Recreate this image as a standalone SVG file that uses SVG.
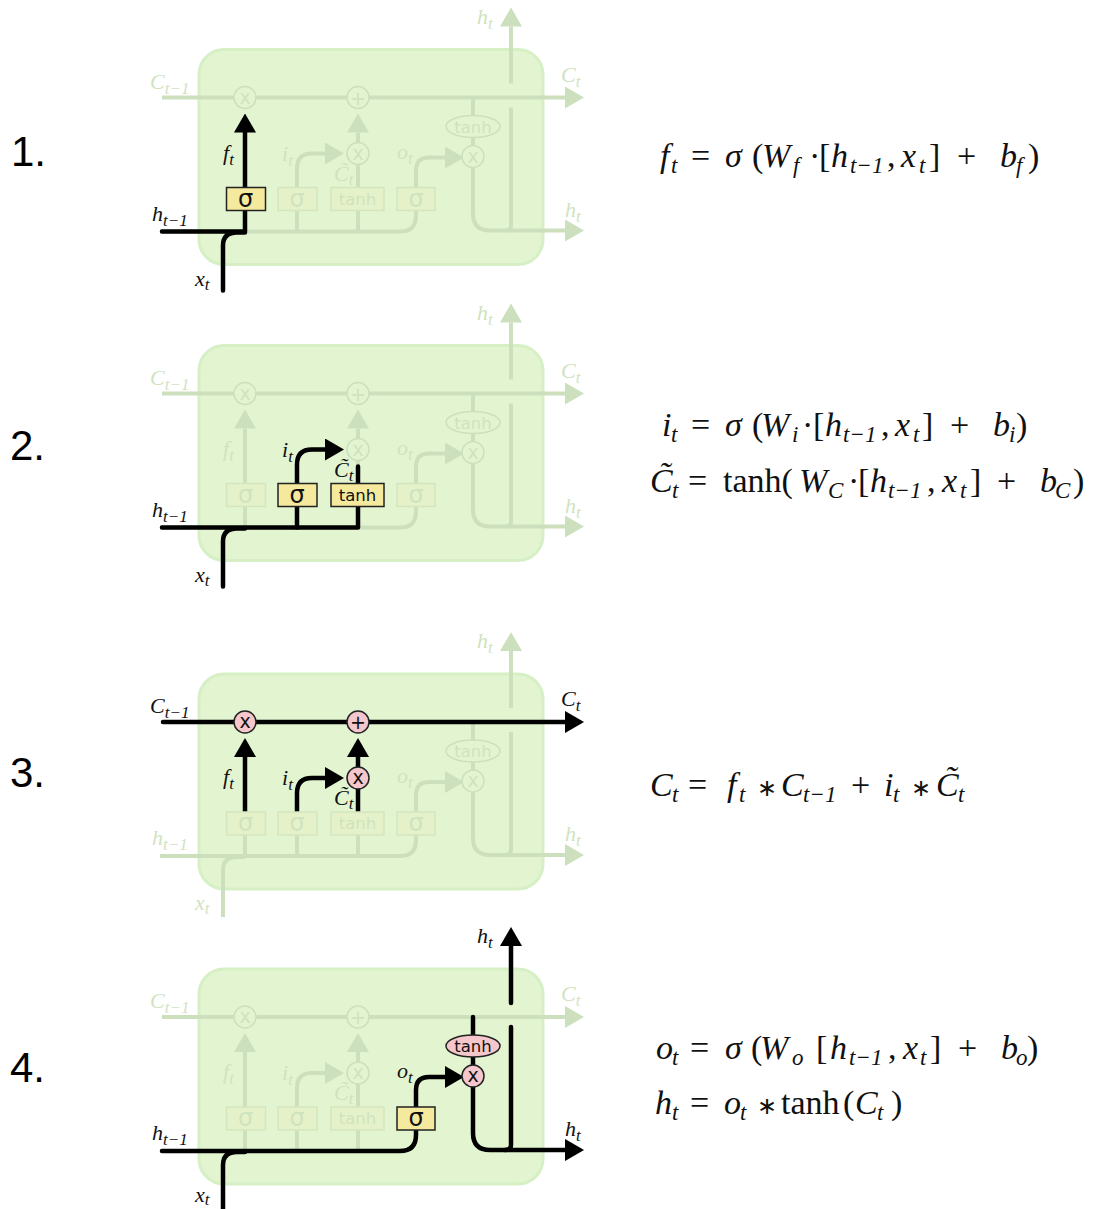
<svg xmlns="http://www.w3.org/2000/svg" width="1093" height="1209" viewBox="0 0 1093 1209">
<style>
.bg{fill:#fff}
.cell{fill:#e2f5d0;stroke:#d6efc4;stroke-width:3}
.fl{fill:none;stroke:#cde0bd;stroke-width:4}
.hl{fill:none;stroke:#000;stroke-width:4.5;stroke-linecap:round;stroke-linejoin:round}
.fb{fill:#e5f2c9;stroke:#d3e6bf;stroke-width:1.5}
.hb{fill:#f5e99d;stroke:#222;stroke-width:1.5}
.fc{fill:#e2f5d0;stroke:#cde0bd;stroke-width:1.5}
.hc{fill:#f5c6cb;stroke:#222;stroke-width:1.5}
text{font-family:"Liberation Serif",serif}
.num{font-family:"Liberation Sans",Arial,sans-serif;font-size:42px;fill:#000}
.g{font-family:"DejaVu Sans",sans-serif;text-anchor:middle}
.sg{font-size:24px}.tn{font-size:16.500px}.op{font-size:19px}
.ft{fill:#d0e3bf}.ht{fill:#111}
.l{font-size:22px;font-style:italic}
.l tspan{font-size:17px}
.eq{font-size:34px;fill:#111}
.i{font-style:italic}
.s{font-size:23px;font-style:italic}
.star{font-family:"DejaVu Sans",sans-serif;font-size:24px}
</style>
<defs>
<marker id="af" viewBox="0 0 19 22" refX="0" refY="11" markerWidth="19" markerHeight="22" markerUnits="userSpaceOnUse" orient="auto"><path d="M0 0L19 11L0 22Z" fill="#cde0bd"/></marker>
<marker id="ah" viewBox="0 0 19 22" refX="0" refY="11" markerWidth="19" markerHeight="22" markerUnits="userSpaceOnUse" orient="auto"><path d="M0 0L19 11L0 22Z" fill="#000"/></marker>
<g id="cellbg"><rect class="cell" x="199" y="49" width="344" height="215" rx="25"/></g>
<g id="fadedlines">
<path class="fl" d="M162 97H565" marker-end="url(#af)"/>
<path class="fl" d="M511 83V26" marker-end="url(#af)"/>
<path class="fl" d="M511 107V225Q511 230 505 230"/>
<path class="fl" d="M160 231H400Q416 231 416 215V170Q416 157 429 157H445" marker-end="url(#af)"/>
<path class="fl" d="M473 97V213Q473 230 490 230H565" marker-end="url(#af)"/>
<path class="fl" d="M245 231V132" marker-end="url(#af)"/>
<path class="fl" d="M297 231V168Q297 153 312 153H325" marker-end="url(#af)"/>
<path class="fl" d="M358 231V132" marker-end="url(#af)"/>
<path class="fl" d="M223 292V245Q223 232 237 232H245"/>
</g>
</defs>
<rect class="bg" width="1093" height="1209"/>

<g id="panel1" transform="translate(0,0.500)">
<use href="#cellbg"/>
<g id="p1-connectors"><use href="#fadedlines"/>
<path class="hl" d="M162 231H245V132" marker-end="url(#ah)"/>
<path class="hl" d="M223 290V245Q223 232 237 232H245"/>
</g>
<g id="p1-mul1"><circle class="fc" cx="245" cy="97" r="11"/><text class="g op ft" x="245" y="103">x</text></g>
<g id="p1-add"><circle class="fc" cx="358" cy="97" r="11"/><text class="g op ft" x="358" y="104">+</text></g>
<g id="p1-mul2"><circle class="fc" cx="358" cy="153" r="11"/><text class="g op ft" x="358" y="159">x</text></g>
<g id="p1-mul3"><circle class="fc" cx="473" cy="156" r="11"/><text class="g op ft" x="473" y="162">x</text></g>
<g id="p1-tanh2"><ellipse class="fc" cx="473" cy="126" rx="27" ry="11"/><text class="g tn ft" x="473" y="132">tanh</text></g>
<g id="p1-forget"><rect class="hb" x="226.500" y="187" width="39" height="23"/><text class="g sg ht" x="245.500" y="206">σ</text></g>
<g id="p1-input"><rect class="fb" x="278" y="187" width="39" height="23"/><text class="g sg ft" x="297" y="206">σ</text></g>
<g id="p1-tanh"><rect class="fb" x="331" y="187" width="53" height="23"/><text class="g tn ft" x="357.500" y="204">tanh</text></g>
<g id="p1-output"><rect class="fb" x="397" y="187" width="38" height="23"/><text class="g sg ft" x="416" y="206">σ</text></g>
<g id="p1-labels">
<text class="l ft" x="150" y="88">C<tspan dy="5">t−1</tspan></text>
<text class="l ft" x="561" y="81">C<tspan dy="5">t</tspan></text>
<text class="l ft" x="477" y="23">h<tspan dy="5">t</tspan></text>
<text class="l ft" x="565" y="216">h<tspan dy="5">t</tspan></text>
<text class="l ht" x="152" y="220">h<tspan dy="5">t−1</tspan></text>
<text class="l ht" x="195" y="285">x<tspan dy="4">t</tspan></text>
<text class="l ht" x="223" y="159">f<tspan dy="5">t</tspan></text>
<text class="l ft" x="282" y="160">i<tspan dy="5">t</tspan></text>
<text class="l ft" x="334" y="180">C̃<tspan dy="4">t</tspan></text>
<text class="l ft" x="397" y="158">o<tspan dy="5">t</tspan></text>
</g>
</g>

<g id="panel2" transform="translate(0,296.500)">
<use href="#cellbg"/>
<g id="p2-connectors"><use href="#fadedlines"/>
<path class="hl" d="M162 231H358V170"/>
<path class="hl" d="M297 231V168Q297 153 312 153H325" marker-end="url(#ah)"/>
<path class="hl" d="M223 290V245Q223 232 237 232H245"/>
</g>
<g id="p2-mul1"><circle class="fc" cx="245" cy="97" r="11"/><text class="g op ft" x="245" y="103">x</text></g>
<g id="p2-add"><circle class="fc" cx="358" cy="97" r="11"/><text class="g op ft" x="358" y="104">+</text></g>
<g id="p2-mul2"><circle class="fc" cx="358" cy="153" r="11"/><text class="g op ft" x="358" y="159">x</text></g>
<g id="p2-mul3"><circle class="fc" cx="473" cy="156" r="11"/><text class="g op ft" x="473" y="162">x</text></g>
<g id="p2-tanh2"><ellipse class="fc" cx="473" cy="126" rx="27" ry="11"/><text class="g tn ft" x="473" y="132">tanh</text></g>
<g id="p2-forget"><rect class="fb" x="226.500" y="187" width="39" height="23"/><text class="g sg ft" x="245.500" y="206">σ</text></g>
<g id="p2-input"><rect class="hb" x="278" y="187" width="39" height="23"/><text class="g sg ht" x="297" y="206">σ</text></g>
<g id="p2-tanh"><rect class="hb" x="331" y="187" width="53" height="23"/><text class="g tn ht" x="357.500" y="204">tanh</text></g>
<g id="p2-output"><rect class="fb" x="397" y="187" width="38" height="23"/><text class="g sg ft" x="416" y="206">σ</text></g>
<g id="p2-labels">
<text class="l ft" x="150" y="88">C<tspan dy="5">t−1</tspan></text>
<text class="l ft" x="561" y="81">C<tspan dy="5">t</tspan></text>
<text class="l ft" x="477" y="23">h<tspan dy="5">t</tspan></text>
<text class="l ft" x="565" y="216">h<tspan dy="5">t</tspan></text>
<text class="l ht" x="152" y="220">h<tspan dy="5">t−1</tspan></text>
<text class="l ht" x="195" y="285">x<tspan dy="4">t</tspan></text>
<text class="l ft" x="223" y="159">f<tspan dy="5">t</tspan></text>
<text class="l ht" x="282" y="160">i<tspan dy="5">t</tspan></text>
<text class="l ht" x="334" y="180">C̃<tspan dy="4">t</tspan></text>
<text class="l ft" x="397" y="158">o<tspan dy="5">t</tspan></text>
</g>
</g>

<g id="panel3" transform="translate(0,625)">
<use href="#cellbg"/>
<g id="p3-connectors"><use href="#fadedlines"/>
<path class="hl" d="M163 97H565" marker-end="url(#ah)"/>
<path class="hl" d="M245 187V132" marker-end="url(#ah)"/>
<path class="hl" d="M297 187V168Q297 153 312 153H325" marker-end="url(#ah)"/>
<path class="hl" d="M358 187V132" marker-end="url(#ah)"/>
</g>
<g id="p3-mul1"><circle class="hc" cx="245" cy="97" r="11"/><text class="g op ht" x="245" y="103">x</text></g>
<g id="p3-add"><circle class="hc" cx="358" cy="97" r="11"/><text class="g op ht" x="358" y="104">+</text></g>
<g id="p3-mul2"><circle class="hc" cx="358" cy="153" r="11"/><text class="g op ht" x="358" y="159">x</text></g>
<g id="p3-mul3"><circle class="fc" cx="473" cy="156" r="11"/><text class="g op ft" x="473" y="162">x</text></g>
<g id="p3-tanh2"><ellipse class="fc" cx="473" cy="126" rx="27" ry="11"/><text class="g tn ft" x="473" y="132">tanh</text></g>
<g id="p3-forget"><rect class="fb" x="226.500" y="187" width="39" height="23"/><text class="g sg ft" x="245.500" y="206">σ</text></g>
<g id="p3-input"><rect class="fb" x="278" y="187" width="39" height="23"/><text class="g sg ft" x="297" y="206">σ</text></g>
<g id="p3-tanh"><rect class="fb" x="331" y="187" width="53" height="23"/><text class="g tn ft" x="357.500" y="204">tanh</text></g>
<g id="p3-output"><rect class="fb" x="397" y="187" width="38" height="23"/><text class="g sg ft" x="416" y="206">σ</text></g>
<g id="p3-labels">
<text class="l ht" x="150" y="88">C<tspan dy="5">t−1</tspan></text>
<text class="l ht" x="561" y="81">C<tspan dy="5">t</tspan></text>
<text class="l ft" x="477" y="23">h<tspan dy="5">t</tspan></text>
<text class="l ft" x="565" y="216">h<tspan dy="5">t</tspan></text>
<text class="l ft" x="152" y="220">h<tspan dy="5">t−1</tspan></text>
<text class="l ft" x="195" y="285">x<tspan dy="4">t</tspan></text>
<text class="l ht" x="223" y="159">f<tspan dy="5">t</tspan></text>
<text class="l ht" x="282" y="160">i<tspan dy="5">t</tspan></text>
<text class="l ht" x="334" y="180">C̃<tspan dy="4">t</tspan></text>
<text class="l ft" x="397" y="158">o<tspan dy="5">t</tspan></text>
</g>
</g>

<g id="panel4" transform="translate(0,920)">
<use href="#cellbg"/>
<g id="p4-connectors"><use href="#fadedlines"/>
<path class="hl" d="M162 231H400Q416 231 416 215V170Q416 157 429 157H445" marker-end="url(#ah)"/>
<path class="hl" d="M223 292V245Q223 232 237 232H245"/>
<path class="hl" d="M473 97V213Q473 230 490 230H565" marker-end="url(#ah)"/>
<path class="hl" d="M511 83V26" marker-end="url(#ah)"/>
<path class="hl" d="M511 107V225Q511 230 505 230"/>
</g>
<g id="p4-mul1"><circle class="fc" cx="245" cy="97" r="11"/><text class="g op ft" x="245" y="103">x</text></g>
<g id="p4-add"><circle class="fc" cx="358" cy="97" r="11"/><text class="g op ft" x="358" y="104">+</text></g>
<g id="p4-mul2"><circle class="fc" cx="358" cy="153" r="11"/><text class="g op ft" x="358" y="159">x</text></g>
<g id="p4-mul3"><circle class="hc" cx="473" cy="156" r="11"/><text class="g op ht" x="473" y="162">x</text></g>
<g id="p4-tanh2"><ellipse class="hc" cx="473" cy="126" rx="27" ry="11"/><text class="g tn ht" x="473" y="132">tanh</text></g>
<g id="p4-forget"><rect class="fb" x="226.500" y="187" width="39" height="23"/><text class="g sg ft" x="245.500" y="206">σ</text></g>
<g id="p4-input"><rect class="fb" x="278" y="187" width="39" height="23"/><text class="g sg ft" x="297" y="206">σ</text></g>
<g id="p4-tanh"><rect class="fb" x="331" y="187" width="53" height="23"/><text class="g tn ft" x="357.500" y="204">tanh</text></g>
<g id="p4-output"><rect class="hb" x="397" y="187" width="38" height="23"/><text class="g sg ht" x="416" y="206">σ</text></g>
<g id="p4-labels">
<text class="l ft" x="150" y="88">C<tspan dy="5">t−1</tspan></text>
<text class="l ft" x="561" y="81">C<tspan dy="5">t</tspan></text>
<text class="l ht" x="477" y="23">h<tspan dy="5">t</tspan></text>
<text class="l ht" x="565" y="216">h<tspan dy="5">t</tspan></text>
<text class="l ht" x="152" y="220">h<tspan dy="5">t−1</tspan></text>
<text class="l ht" x="195" y="282">x<tspan dy="3">t</tspan></text>
<text class="l ft" x="223" y="159">f<tspan dy="5">t</tspan></text>
<text class="l ft" x="282" y="160">i<tspan dy="5">t</tspan></text>
<text class="l ft" x="334" y="180">C̃<tspan dy="4">t</tspan></text>
<text class="l ht" x="397" y="158">o<tspan dy="5">t</tspan></text>
</g>
</g>

<g id="numbers">
<text class="num" x="11" y="166">1.</text>
<text class="num" x="10" y="460">2.</text>
<text class="num" x="10" y="787">3.</text>
<text class="num" x="10" y="1082">4.</text>
</g>

<g id="equations">
<text class="eq" y="167"><tspan class="i" x="660">f</tspan><tspan class="s" x="671" y="173">t</tspan><tspan x="691" y="167">=</tspan><tspan class="i" x="725">σ</tspan><tspan x="752">(</tspan><tspan class="i" x="762">W</tspan><tspan class="s" x="793" y="173">f</tspan><tspan x="809" y="167">·</tspan><tspan x="819">[</tspan><tspan class="i" x="831">h</tspan><tspan class="s" x="850" y="173">t−1</tspan><tspan x="887" y="167">,</tspan><tspan class="i" x="901">x</tspan><tspan class="s" x="919" y="173">t</tspan><tspan x="929" y="167">]</tspan><tspan x="957">+</tspan><tspan class="i" x="1000">b</tspan><tspan class="s" x="1016" y="173">f</tspan><tspan x="1028" y="167">)</tspan></text>
<text class="eq" y="436"><tspan class="i" x="662">i</tspan><tspan class="s" x="671" y="442">t</tspan><tspan x="691" y="436">=</tspan><tspan class="i" x="725">σ</tspan><tspan x="752">(</tspan><tspan class="i" x="761">W</tspan><tspan class="s" x="792" y="442">i</tspan><tspan x="802" y="436">·</tspan><tspan x="813">[</tspan><tspan class="i" x="825">h</tspan><tspan class="s" x="843" y="442">t−1</tspan><tspan x="881" y="436">,</tspan><tspan class="i" x="895">x</tspan><tspan class="s" x="913" y="442">t</tspan><tspan x="922" y="436">]</tspan><tspan x="950">+</tspan><tspan class="i" x="993">b</tspan><tspan class="s" x="1009" y="442">i</tspan><tspan x="1016" y="436">)</tspan></text>
<text class="eq" y="492"><tspan class="i" x="650">C̃</tspan><tspan class="s" x="672" y="498">t</tspan><tspan x="688" y="492">=</tspan><tspan x="723">tanh(</tspan><tspan class="i" x="799">W</tspan><tspan class="s" x="828" y="498">C</tspan><tspan x="848" y="492">·</tspan><tspan x="858">[</tspan><tspan class="i" x="870">h</tspan><tspan class="s" x="888" y="498">t−1</tspan><tspan x="927" y="492">,</tspan><tspan class="i" x="942">x</tspan><tspan class="s" x="960" y="498">t</tspan><tspan x="970" y="492">]</tspan><tspan x="997">+</tspan><tspan class="i" x="1040">b</tspan><tspan class="s" x="1055" y="498">C</tspan><tspan x="1073" y="492">)</tspan></text>
<text class="eq" y="796"><tspan class="i" x="650">C</tspan><tspan class="s" x="672" y="802">t</tspan><tspan x="688" y="796">=</tspan><tspan class="i" x="727">f</tspan><tspan class="s" x="739" y="802">t</tspan><tspan class="star" x="757" y="796">∗</tspan><tspan class="i" x="781">C</tspan><tspan class="s" x="803" y="802">t−1</tspan><tspan x="851" y="796">+</tspan><tspan class="i" x="884">i</tspan><tspan class="s" x="893" y="802">t</tspan><tspan class="star" x="911" y="796">∗</tspan><tspan class="i" x="936">C̃</tspan><tspan class="s" x="958" y="802">t</tspan></text>
<text class="eq" y="1059"><tspan class="i" x="656">o</tspan><tspan class="s" x="672" y="1065">t</tspan><tspan x="690" y="1059">=</tspan><tspan class="i" x="725">σ</tspan><tspan x="751">(</tspan><tspan class="i" x="760">W</tspan><tspan class="s" x="792" y="1065">o</tspan><tspan x="816" y="1059">[</tspan><tspan class="i" x="830">h</tspan><tspan class="s" x="849" y="1065">t−1</tspan><tspan x="888" y="1059">,</tspan><tspan class="i" x="903">x</tspan><tspan class="s" x="920" y="1065">t</tspan><tspan x="930" y="1059">]</tspan><tspan x="958">+</tspan><tspan class="i" x="1001">b</tspan><tspan class="s" x="1016" y="1065">o</tspan><tspan x="1027" y="1059">)</tspan></text>
<text class="eq" y="1114"><tspan class="i" x="655">h</tspan><tspan class="s" x="672" y="1120">t</tspan><tspan x="690" y="1114">=</tspan><tspan class="i" x="724">o</tspan><tspan class="s" x="740" y="1120">t</tspan><tspan class="star" x="757" y="1114">∗</tspan><tspan x="781">tanh</tspan><tspan x="843">(</tspan><tspan class="i" x="855">C</tspan><tspan class="s" x="877" y="1120">t</tspan><tspan x="891" y="1114">)</tspan></text>
</g>
</svg>
